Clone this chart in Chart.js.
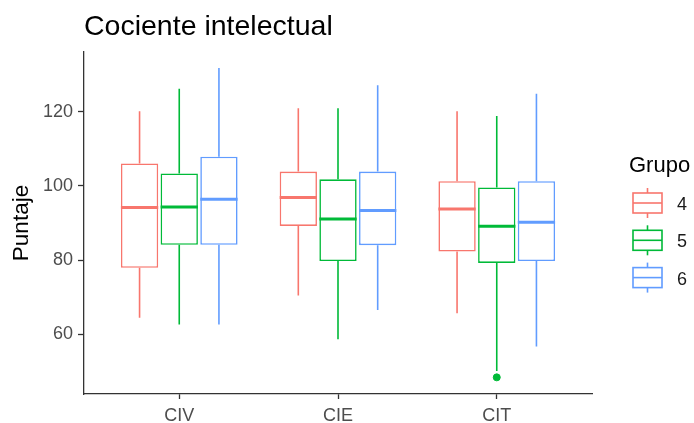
<!DOCTYPE html>
<html>
<head>
<meta charset="utf-8">
<script src="https://cdn.jsdelivr.net/npm/chart.js@4/dist/chart.umd.min.js"></script>
<style>
  html, body { margin: 0; padding: 0; background: #fff; }
  #wrap { width: 694px; height: 423px; }
</style>
</head>
<body>
<div id="wrap"><canvas id="chartIQ" width="694" height="423"></canvas></div>
<script>
// Resumen de cajas por prueba y grupo
const categories = ['CIV', 'CIE', 'CIT'];
const groups = ['4', '5', '6'];
const groupColors = ['#F8766D', '#00BA38', '#619CFF'];

// cada fila: [CIV, CIE, CIT]
const whiskerLow = [
    [64.4, 70.4, 65.6],
    [62.6, 58.6, 50.0],
    [62.6, 66.5, 56.6]
];
const q1 = [
    [77.9, 89.2, 82.3],
    [84.1, 79.7, 79.2],
    [84.1, 84.0, 79.7]
];
const medians = [
    [94.2, 96.9, 93.8],
    [94.3, 91.1, 89.1],
    [96.4, 93.4, 90.2]
];
const q3 = [
    [106.1, 103.9, 101.3],
    [103.4, 101.8, 99.6],
    [107.9, 103.9, 101.3]
];
const whiskerHigh = [
    [120.2, 121.0, 120.2],
    [126.3, 121.0, 118.9],
    [131.9, 127.2, 124.9]
];
// valores atípicos: [grupo, categoría, valor]
const outliers = [
    [1, 2, 48.3]
];

const yTicks = [60, 80, 100, 120];
const FONT = "'Liberation Sans', Arial, sans-serif";
const DODGE = 0.25;

const xFor = (g, c) => c + 1 + (g - 1) * DODGE;

const boxDatasets = groups.map((name, g) => ({
    type: 'bar',
    label: name,
    data: categories.map((cat, c) => ({ x: xFor(g, c), y: [q1[g][c], q3[g][c]] })),
    backgroundColor: '#ffffff',
    borderColor: groupColors[g],
    borderWidth: 1.6,
    borderSkipped: false,
    grouped: false,
    categoryPercentage: 1,
    barPercentage: 0.94,
    order: 2
}));

const outlierDataset = {
    type: 'scatter',
    label: 'atipicos',
    data: outliers.map(o => ({ x: xFor(o[0], o[1]), y: o[2] })),
    backgroundColor: outliers.map(o => groupColors[o[0]]),
    borderColor: outliers.map(o => groupColors[o[0]]),
    pointRadius: 3.5,
    order: 1
};

// bigotes, medianas, título y leyenda
const boxPlugin = {
    id: 'boxExtras',
    beforeDatasetsDraw(chart) {
        const ctx = chart.ctx;
        const x = chart.scales.x, y = chart.scales.y;
        ctx.save();
        ctx.lineWidth = 1.6;
        groups.forEach((name, g) => {
            ctx.strokeStyle = groupColors[g];
            categories.forEach((cat, c) => {
                const px = x.getPixelForValue(xFor(g, c));
                ctx.beginPath();
                ctx.moveTo(px, y.getPixelForValue(whiskerHigh[g][c]));
                ctx.lineTo(px, y.getPixelForValue(q3[g][c]));
                ctx.moveTo(px, y.getPixelForValue(q1[g][c]));
                ctx.lineTo(px, y.getPixelForValue(whiskerLow[g][c]));
                ctx.stroke();
            });
        });
        ctx.restore();
    },
    afterDatasetsDraw(chart) {
        const ctx = chart.ctx;
        const y = chart.scales.y;
        ctx.save();
        ctx.lineWidth = 3;
        groups.forEach((name, g) => {
            const meta = chart.getDatasetMeta(g);
            ctx.strokeStyle = groupColors[g];
            categories.forEach((cat, c) => {
                const bar = meta.data[c];
                const half = bar.width / 2;
                const py = y.getPixelForValue(medians[g][c]);
                ctx.beginPath();
                ctx.moveTo(bar.x - half, py);
                ctx.lineTo(bar.x + half, py);
                ctx.stroke();
            });
        });
        ctx.restore();
    },
    afterDraw(chart) {
        const ctx = chart.ctx;
        ctx.save();
        ctx.fillStyle = '#000';
        ctx.textBaseline = 'alphabetic';
        ctx.textAlign = 'left';
        ctx.font = '28.5px ' + FONT;
        ctx.fillText('Cociente intelectual', 84, 35);

        // leyenda
        ctx.font = '22px ' + FONT;
        ctx.fillText('Grupo', 629, 172);
        ctx.font = '18px ' + FONT;
        ctx.textBaseline = 'middle';
        groups.forEach((name, g) => {
            const cy = 203 + g * 37.3;
            const cx = 647.5;
            ctx.strokeStyle = groupColors[g];
            ctx.lineWidth = 1.6;
            ctx.beginPath();
            ctx.moveTo(cx, cy - 15);
            ctx.lineTo(cx, cy + 15);
            ctx.stroke();
            ctx.fillStyle = '#fff';
            ctx.fillRect(633, cy - 10, 29, 20);
            ctx.strokeRect(633, cy - 10, 29, 20);
            ctx.beginPath();
            ctx.moveTo(633, cy);
            ctx.lineTo(662, cy);
            ctx.stroke();
            ctx.fillStyle = '#1a1a1a';
            ctx.fillText(name, 677, cy + 2);
        });
        ctx.restore();
    }
};

new Chart(document.getElementById('chartIQ'), {
    data: { datasets: [...boxDatasets, outlierDataset] },
    options: {
        responsive: false,
        animation: false,
        layout: { padding: { top: 52, right: 102, bottom: 0, left: 0 } },
        plugins: {
            legend: { display: false },
            tooltip: { enabled: false }
        },
        scales: {
            x: {
                type: 'linear',
                offset: false,
                min: 0.4,
                max: 3.6,
                afterBuildTicks: s => { s.ticks = categories.map((c, i) => ({ value: i + 1 })); },
                afterFit: s => { s.height = 29; },
                ticks: {
                    callback: v => categories[v - 1],
                    color: '#4D4D4D',
                    font: { family: FONT, size: 18 },
                    padding: 6,
                    maxRotation: 0
                },
                grid: { offset: false, drawOnChartArea: false, drawTicks: true, tickLength: 5, tickColor: '#333', tickWidth: 1.3 },
                border: { display: true, color: '#333', width: 1.3 }
            },
            y: {
                type: 'linear',
                min: 43.8,
                max: 136.2,
                afterBuildTicks: s => { s.ticks = yTicks.map(v => ({ value: v })); },
                afterFit: s => { s.width = 84; },
                title: {
                    display: true,
                    text: 'Puntaje',
                    color: '#000',
                    font: { family: FONT, size: 22.5 },
                    padding: { top: 8, bottom: 0 }
                },
                ticks: {
                    color: '#4D4D4D',
                    font: { family: FONT, size: 18 },
                    padding: 5
                },
                grid: { drawOnChartArea: false, drawTicks: true, tickLength: 6, tickColor: '#333', tickWidth: 1.3 },
                border: { display: true, color: '#333', width: 1.3 }
            }
        }
    },
    plugins: [boxPlugin]
});
</script>
</body>
</html>
